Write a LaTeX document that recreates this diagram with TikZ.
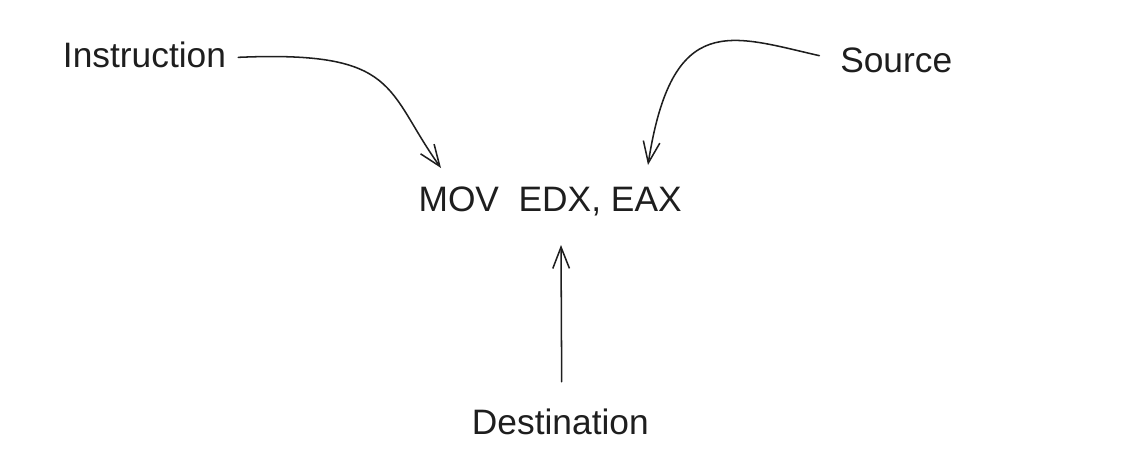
\documentclass[tikz,border=0pt]{standalone}
\usepackage{fontspec}
\setmainfont{Liberation Sans}
\usetikzlibrary{arrows.meta}
\definecolor{inkgray}{RGB}{30,30,30}
\tikzset{
  >={Straight Barb[length=16pt, width=12.5pt]},
  link/.style={->, line width=1.15pt, draw=inkgray, line cap=round},
  word/.style={inner sep=0pt, text=inkgray, font=\fontsize{26.5}{32}\selectfont, anchor=base west}
}

\begin{document}
\begin{tikzpicture}[x=0.75pt, y=-0.75pt]
  \useasboundingbox (0,0) rectangle (1132,471);

  % Labels and the instruction line.
  \node[word] (code) at (418.3,211) {MOV\ \ EDX, EAX};
  \node[word] (instr) at (62.7,67.3) {Instruction};
  \node[word] (src) at (840,72.5) {Source};
  \node[word] (dest) at (471.7,434.3) {Destination};

  % Where the arrows land.
  \coordinate (tipI) at (441,168);
  \coordinate (tipS) at (648,165);
  \coordinate (tipD) at (561,245);

  % Hand-drawn style arrows.
  \draw[link] ([xshift=9pt,yshift=-2pt]instr.east) .. controls +(162,-7) and +(-56,-78) .. (tipI);
  \draw[link] ([xshift=-15.5pt,yshift=3.5pt]src.west) .. controls +(-88,-20) and +(24,-155) .. (tipS);
  \draw[link] ([xshift=1pt,yshift=20pt]dest.north) -- (tipD);
\end{tikzpicture}
\end{document}
